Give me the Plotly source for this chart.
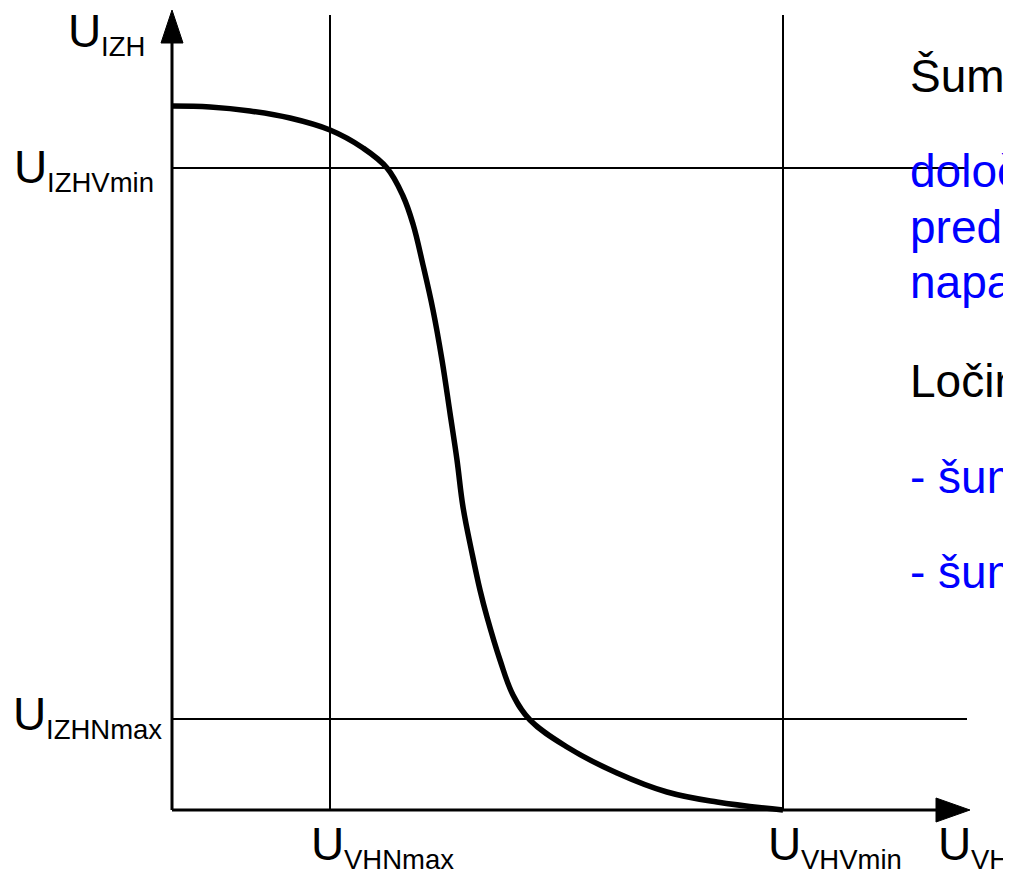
import plotly.graph_objects as go

# Transfer characteristic (arbitrary units; origin at axis crossing)
curve_x = [0.00, 0.38, 0.78, 1.18, 1.58, 1.91, 2.15, 2.31, 2.41, 2.51, 2.61, 2.70, 2.78,
           2.85, 2.91, 3.00, 3.08, 3.15, 3.28, 3.41, 3.58, 3.95, 4.45, 4.95, 5.45, 6.11]
curve_y = [7.04, 7.03, 6.99, 6.92, 6.80, 6.62, 6.42, 6.14, 5.86, 5.45, 5.00, 4.50, 3.97,
           3.50, 3.03, 2.57, 2.20, 1.93, 1.50, 1.15, 0.90, 0.63, 0.37, 0.18, 0.08, 0.00]

# Characteristic levels
U_VHNmax = 1.58
U_VHVmin = 6.11
U_IZHVmin = 6.42
U_IZHNmax = 0.91

# Extents
X_AXIS_END = 7.64
X_ARROW_TIP = 7.98
Y_AXIS_END = 7.67
Y_ARROW_TIP = 8.00
GUIDE_TOP = 7.95
GUIDE_RIGHT_HI = 7.93
GUIDE_RIGHT_LO = 7.95

fig = go.Figure()

line_guide = dict(color="black", width=2)
# horizontal guides
fig.add_trace(go.Scatter(x=[0, GUIDE_RIGHT_HI], y=[U_IZHVmin, U_IZHVmin], mode="lines", line=line_guide))
fig.add_trace(go.Scatter(x=[0, GUIDE_RIGHT_LO], y=[U_IZHNmax, U_IZHNmax], mode="lines", line=line_guide))
# vertical guides
fig.add_trace(go.Scatter(x=[U_VHNmax, U_VHNmax], y=[0, GUIDE_TOP], mode="lines", line=line_guide))
fig.add_trace(go.Scatter(x=[U_VHVmin, U_VHVmin], y=[0, GUIDE_TOP], mode="lines", line=line_guide))

# axes
fig.add_trace(go.Scatter(x=[0, X_AXIS_END], y=[0, 0], mode="lines", line=dict(color="black", width=3)))
fig.add_trace(go.Scatter(x=[0, 0], y=[0, Y_AXIS_END], mode="lines", line=dict(color="black", width=3)))
# arrow heads
fig.add_trace(go.Scatter(x=[X_AXIS_END, X_ARROW_TIP, X_AXIS_END, X_AXIS_END],
                         y=[0.12, 0, -0.12, 0.12], mode="lines", fill="toself",
                         fillcolor="black", line=dict(color="black", width=1)))
fig.add_trace(go.Scatter(x=[-0.11, 0, 0.11, -0.11],
                         y=[Y_AXIS_END, Y_ARROW_TIP, Y_AXIS_END, Y_AXIS_END], mode="lines", fill="toself",
                         fillcolor="black", line=dict(color="black", width=1)))

# curve
fig.add_trace(go.Scatter(x=curve_x, y=curve_y, mode="lines",
                         line=dict(color="black", width=5.5, shape="spline", smoothing=1.1)))

FONT = "Liberation Sans, Arial, sans-serif"
BIG = 46
SUB = 27.5

def label(x, y, main, sub, dx=0.33, dy=-0.155):
    fig.add_annotation(x=x, y=y, text=main, showarrow=False, xanchor="left", yanchor="middle",
                       font=dict(family=FONT, size=BIG, color="black"))
    fig.add_annotation(x=x + dx, y=y + dy, text=sub, showarrow=False, xanchor="left", yanchor="middle",
                       font=dict(family=FONT, size=SUB, color="black"))

label(-1.06, 7.79, "U", "IZH")
label(-1.60, 6.43, "U", "IZHVmin")
label(-1.61, 0.96, "U", "IZHNmax")
label(1.37, -0.34, "U", "VHNmax")
label(5.94, -0.34, "U", "VHVmin")
label(7.64, -0.34, "U", "VH")

TX = 7.36
side_text = [
    ("Šumna imunost", 7.34, "black"),
    ("določa dovoljeno motnjo", 6.39, "#0000FF"),
    ("predočeno na vhodu,", 5.83, "#0000FF"),
    ("napačnega delovanja.", 5.28, "#0000FF"),
    ("Ločimo:", 4.29, "black"),
    ("- šumno mejo v stanju 0", 3.33, "#0000FF"),
    ("- šumno mejo v stanju 1", 2.38, "#0000FF"),
]
for t, yy, c in side_text:
    fig.add_annotation(x=TX, y=yy, text=t, showarrow=False, xanchor="left", yanchor="middle",
                       font=dict(family=FONT, size=BIG, color=c))

# page body has an 8px margin, so the figure is 8px smaller and the ranges start 8px in
fig.update_layout(
    width=1003, height=865,
    margin=dict(l=0, r=0, t=0, b=0),
    paper_bgcolor="white", plot_bgcolor="white",
    showlegend=False, hovermode=False,
    xaxis=dict(range=[-1.64, 8.39], visible=False, fixedrange=True),
    yaxis=dict(range=[-0.63, 8.02], visible=False, fixedrange=True),
)

fig.write_html("out.html")
